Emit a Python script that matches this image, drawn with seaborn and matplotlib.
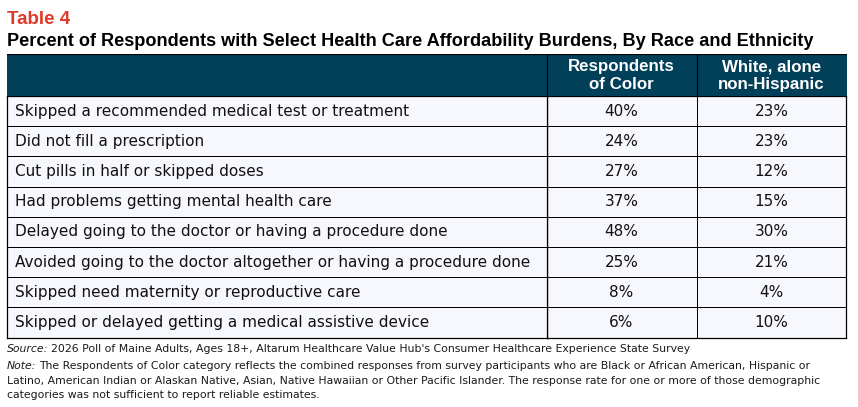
import matplotlib.pyplot as plt
import matplotlib.patches as patches
import seaborn as sns
import numpy as np

# table contents
burdens = [
    'Skipped a recommended medical test or treatment',
    'Did not fill a prescription',
    'Cut pills in half or skipped doses',
    'Had problems getting mental health care',
    'Delayed going to the doctor or having a procedure done',
    'Avoided going to the doctor altogether or having a procedure done',
    'Skipped need maternity or reproductive care',
    'Skipped or delayed getting a medical assistive device',
]
groups = ['Respondents\nof Color', 'White, alone\nnon-Hispanic']
color_pct = [40, 24, 27, 37, 48, 25, 8, 6]
white_pct = [23, 23, 12, 15, 30, 21, 4, 10]

HEAD = '#023f58'
ROW_BG = '#f7f8fd'
W, H = 858, 407

fig = plt.figure(figsize=(W / 100, H / 100), dpi=100)


def fbox(x0, y0, x1, y1):
    # pixel box (top-left origin) -> figure fraction rect
    return [x0 / W, 1 - y1 / H, (x1 - x0) / W, (y1 - y0) / H]


x_left, x_mid, x_right = 6.5, 546.5, 846.5
y_head, y_body, y_end = 53.5, 96, 337.5
LW = 0.72

# value columns as a heatmap
ax_vals = fig.add_axes(fbox(x_mid, y_body, x_right, y_end))
vals = np.array([color_pct, white_pct]).T
annot = np.array([[f'{v}%' for v in row] for row in vals])
sns.heatmap(vals, ax=ax_vals, cmap=[ROW_BG], cbar=False, annot=annot, fmt='',
            linewidths=LW, linecolor='black',
            annot_kws={'fontsize': 11, 'color': '#111111', 'family': 'DejaVu Sans'})
ax_vals.set_xticks([])
ax_vals.set_yticks([])

# label column as a one-column heatmap, text moved to the left
ax_lab = fig.add_axes(fbox(x_left, y_body, x_mid, y_end))
lab_annot = np.array(burdens).reshape(-1, 1)
sns.heatmap(np.zeros((len(burdens), 1)), ax=ax_lab, cmap=[ROW_BG], cbar=False,
            annot=lab_annot, fmt='', linewidths=LW, linecolor='black',
            annot_kws={'fontsize': 11, 'color': '#111111', 'family': 'DejaVu Sans'})
for t in ax_lab.texts:
    t.set_ha('left')
    t.set_x(0.016)
ax_lab.set_xticks([])
ax_lab.set_yticks([])

for ax in (ax_vals, ax_lab):
    for s in ax.spines.values():
        s.set_visible(True)
        s.set_linewidth(0.9)
        s.set_color('black')

# header band
ax_head = fig.add_axes(fbox(x_left, y_head, x_right, y_body))
ax_head.set_xlim(x_left, x_right)
ax_head.set_ylim(y_body, y_head)
ax_head.add_patch(patches.Rectangle((x_left, y_head), x_right - x_left, y_body - y_head,
                                    color=HEAD))
ax_head.axvline(x_mid, color='black', lw=0.8)
ax_head.axvline(696.5, color='black', lw=0.8)
ax_head.axhline(y_head + 0.5, color='black', lw=0.9)
for xc, g in zip([621.5, 771.5], groups):
    ax_head.text(xc, 75.5, g, color='white', ha='center', va='center',
                 fontsize=12.2, fontweight='bold', family='Liberation Sans', linespacing=1.22)
ax_head.axis('off')

# titles
fig.text(7 / W, 1 - 20 / H, 'Table 4', color='#e03a2a', fontsize=13.5, fontweight='bold',
         family='Liberation Sans', va='center')
fig.text(7 / W, 1 - 41.5 / H,
         'Percent of Respondents with Select Health Care Affordability Burdens, By Race and Ethnicity',
         color='black', fontsize=13.1, fontweight='bold', family='Liberation Sans', va='center')

# notes
fn = dict(fontsize=7.85, family='DejaVu Sans', color='#1a1a1a', va='center')
renderer = fig.canvas.get_renderer()


def note_line(y, label, rest):
    t = fig.text(7 / W, 1 - y / H, label, style='italic', **fn)
    bb = t.get_window_extent(renderer)
    fig.text((bb.x1 + 3) / W, 1 - y / H, rest, **fn)


note_line(349, 'Source:',
          '2026 Poll of Maine Adults, Ages 18+, Altarum Healthcare Value Hub\'s Consumer Healthcare Experience State Survey')
note_line(366, 'Note:',
          'The Respondents of Color category reflects the combined responses from survey participants who are Black or African American, Hispanic or')
fig.text(7 / W, 1 - 380.5 / H,
         'Latino, American Indian or Alaskan Native, Asian, Native Hawaiian or Other Pacific Islander. The response rate for one or more of those demographic',
         **fn)
fig.text(7 / W, 1 - 395 / H, 'categories was not sufficient to report reliable estimates.', **fn)

fig.savefig('out.png', dpi=100)
